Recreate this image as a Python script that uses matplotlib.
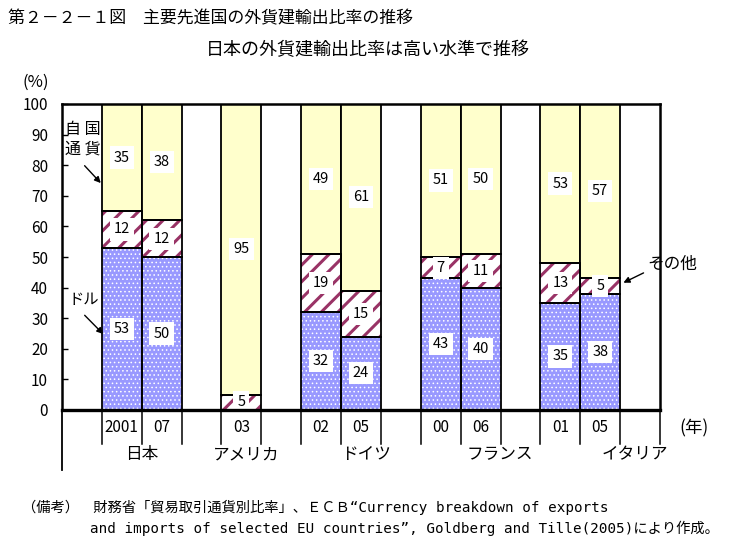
import matplotlib
matplotlib.use('Agg')
import matplotlib.pyplot as plt
import numpy as np

plt.rcParams['font.family'] = ['Noto Sans CJK JP', 'DejaVu Sans']

# ---- data ----
countries = ['日本', 'アメリカ', 'ドイツ', 'フランス', 'イタリア']
years = [['2001', '07'], ['03'], ['02', '05'], ['00', '06'], ['01', '05']]
dollar = [53, 50, 0, 32, 24, 43, 40, 35, 38]
other = [12, 12, 5, 19, 15, 7, 11, 13, 5]
own = [35, 38, 95, 49, 61, 51, 50, 53, 57]

# ---- layout ----
country_label_x = [2.0, 4.62, 7.62, 10.98, 14.38]
C_DOLLAR = '#9999FF'
C_OTHER = '#993366'
C_OWN = '#FFFFCC'

pos = []
slot = 1
for g in years:
    for _ in g:
        pos.append(slot + 0.5)
        slot += 1
    slot += 1
n_slots = slot
pos = np.array(pos)
dollar = np.array(dollar, dtype=float)
other = np.array(other, dtype=float)
own = np.array(own, dtype=float)
year_labels = [y for g in years for y in g]

fig = plt.figure(figsize=(7.34, 5.42), dpi=100)
W, H = 734, 542
ax = fig.add_axes([62 / W, (H - 410) / H, 598 / W, 306 / H])

with plt.rc_context({'hatch.linewidth': 0.6}):
    ax.bar(pos, dollar, width=1, color=C_DOLLAR, edgecolor='white', hatch='....', linewidth=0, zorder=2)
with plt.rc_context({'hatch.linewidth': 2.2}):
    ax.bar(pos, other, bottom=dollar, width=1, color='white', edgecolor=C_OTHER, hatch='//', linewidth=0, zorder=2)
ax.bar(pos, own, bottom=dollar + other, width=1, color=C_OWN, edgecolor='black', linewidth=1.3, zorder=3)
ax.bar(pos, dollar, width=1, fill=False, edgecolor='black', linewidth=1.3, zorder=3)
ax.bar(pos, other, bottom=dollar, width=1, fill=False, edgecolor='black', linewidth=1.3, zorder=3)

# value labels
bbox = dict(boxstyle='square,pad=0.28', fc='white', ec='none')
for i in range(len(pos)):
    bottoms = [0, dollar[i], dollar[i] + other[i]]
    vals = [dollar[i], other[i], own[i]]
    for b, v in zip(bottoms, vals):
        if v <= 0:
            continue
        top = min(b + v, 100)
        ax.text(pos[i], (b + top) / 2, f'{int(v)}', ha='center', va='center',
                fontsize=10.5, bbox=bbox, zorder=5)

ax.set_xlim(0, n_slots)
ax.set_ylim(0, 100)
ax.set_yticks(range(0, 101, 10))
ax.set_xticks([])
ax.tick_params(axis='y', direction='in', length=4, width=1, pad=10, labelsize=11)
for s in ['left', 'top', 'right']:
    ax.spines[s].set_linewidth(1.8)
ax.spines['bottom'].set_linewidth(2.4)
for s in ax.spines.values():
    s.set_zorder(6)

# table below axis
tr = ax.get_xaxis_transform()
ax.plot([0, 0], [0, -60 / 306], color='black', lw=1.3, transform=tr, clip_on=False)
for k in range(1, n_slots + 1):
    ax.plot([k, k], [0, -34 / 306], color='black', lw=1.1, transform=tr, clip_on=False)
for x, lab in zip(pos, year_labels):
    ax.text(x, -18 / 306, lab, ha='center', va='center', fontsize=11, transform=tr)
for x, lab in zip(country_label_x, countries):
    ax.text(x, -45 / 306, lab, ha='center', va='center', fontsize=12, transform=tr)
ax.text(15.85, -18 / 306, '(年)', ha='center', va='center', fontsize=12.5, transform=tr, clip_on=False)

# annotations
ax.text(0.52, 88.5, '自 国\n通 貨', ha='center', va='center', fontsize=11.5, linespacing=1.2)
ax.annotate('', xy=(1.02, 73.5), xytext=(0.52, 80.5),
            arrowprops=dict(arrowstyle='-|>', color='black', lw=1, mutation_scale=9))
ax.text(0.55, 36, 'ドル', ha='center', va='center', fontsize=11)
ax.annotate('', xy=(1.08, 24.2), xytext=(0.52, 31.6),
            arrowprops=dict(arrowstyle='-|>', color='black', lw=1, mutation_scale=9))
ax.text(15.3, 47.5, 'その他', ha='center', va='center', fontsize=12, clip_on=False)
ax.annotate('', xy=(14.02, 41.2), xytext=(14.65, 45.2),
            arrowprops=dict(arrowstyle='-|>', color='black', lw=1, mutation_scale=9),
            annotation_clip=False)

# titles
fig.text(8 / W, 1 - 18 / H, '第２－２－１図　主要先進国の外貨建輸出比率の推移', ha='left', va='center', fontsize=12.2)
fig.text(368 / W, 1 - 50 / H, '日本の外貨建輸出比率は高い水準で推移', ha='center', va='center', fontsize=13)
fig.text(36 / W, 1 - 82 / H, '(%)', ha='center', va='center', fontsize=12)

foot_family = ['DejaVu Sans Mono', 'Noto Sans CJK JP']
fig.text(22 / W, 1 - 507 / H, '（備考）　財務省「貿易取引通貨別比率」、ＥＣＢ“Currency breakdown of exports',
         ha='left', va='center', fontsize=10.3, family=foot_family)
fig.text(90 / W, 1 - 528 / H, 'and imports of selected EU countries”, Goldberg and Tille(2005)により作成。',
         ha='left', va='center', fontsize=10.3, family=foot_family)

fig.savefig('out.png', dpi=100)
